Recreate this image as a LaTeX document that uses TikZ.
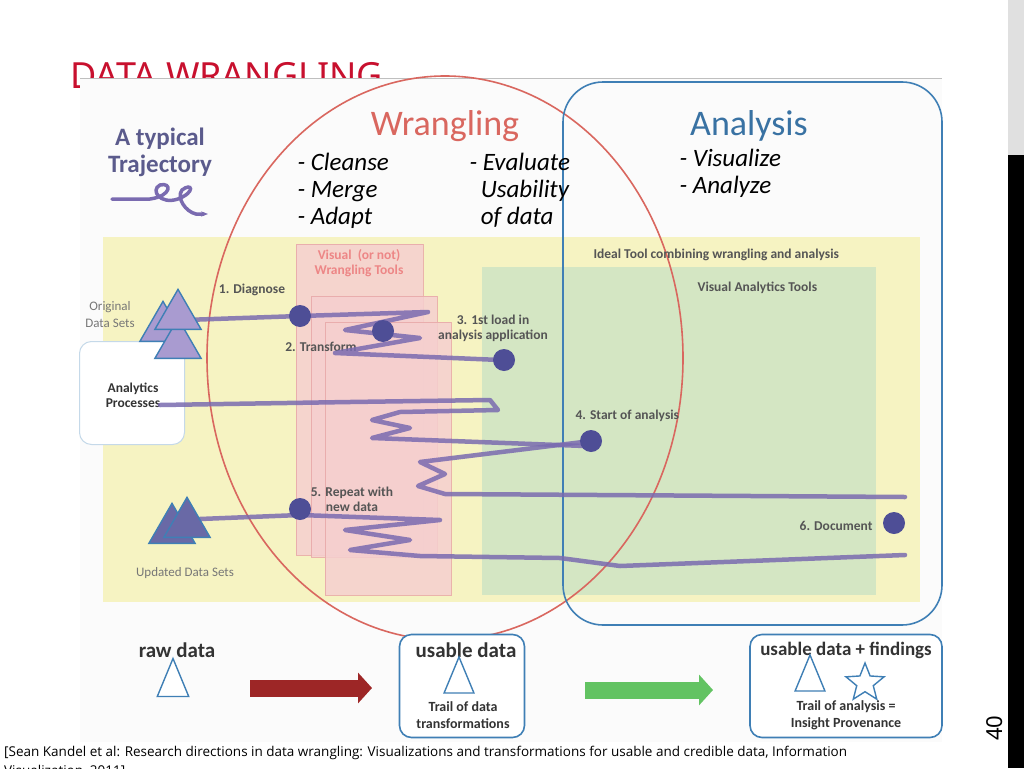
\documentclass[tikz,border=0pt]{standalone}
\usepackage{fontspec}
\setmainfont{Carlito}
\newfontfamily\opens{Open Sans}
\newfontfamily\notos{Noto Sans}
\usetikzlibrary{shapes.geometric,arrows.meta}
\definecolor{ttl}{HTML}{C8102E}
\definecolor{ylw}{HTML}{F6F3C2}
\definecolor{grn}{HTML}{D4E6C3}
\definecolor{pnk}{HTML}{F5CFCF}
\definecolor{pnkb}{HTML}{E8A8A8}
\definecolor{redl}{HTML}{D9675F}
\definecolor{blu}{HTML}{3F7FB5}
\definecolor{pur}{HTML}{7A6BB0}
\definecolor{purf}{HTML}{A99BD0}
\definecolor{dot}{HTML}{4E4E96}
\definecolor{purt}{HTML}{5B5B8C}
\definecolor{grt}{HTML}{555555}
\tikzset{
 traj/.style={pur,line width=4.5pt,line join=round,line cap=round,opacity=.85},
 dotn/.style={circle,fill=dot,minimum size=22pt,inner sep=0pt},
 lbl/.style={font=\bfseries\fontsize{13.5}{15}\selectfont,text=grt,align=center},
 tri/.style={isosceles triangle,shape border rotate=90,isosceles triangle apex angle=60,draw=blu,line width=1.4pt,fill=purf,minimum height=40pt,inner sep=0pt},
 otri/.style={isosceles triangle,shape border rotate=90,isosceles triangle apex angle=45,draw=blu,line width=1.4pt,fill=white,minimum height=38pt,inner sep=0pt},
 pbox/.style={fill=pnk,draw=pnkb,line width=.6pt,opacity=.85},
 bbox/.style={draw=blu,line width=1.6pt,rounded corners=12pt,fill=white},
 big/.style={font=\bfseries\fontsize{21}{24}\selectfont,text=black!80}
}
\begin{document}
\begin{tikzpicture}[x=1pt,y=-1pt]
\useasboundingbox (0,0) rectangle (1024,768);
\fill[white] (0,0) rectangle (1024,768);
\fill[black!12] (1008,0) rectangle (1024,155);
\fill[black] (1008,155) rectangle (1024,768);
\node[rotate=90,font=\notos\fontsize{22}{24}\selectfont] (pg) at (995,728) {40};
\node[anchor=base west,text=ttl,font=\notos\fontsize{36}{38}\selectfont,inner sep=0] (title) at (70,88) {DATA WRANGLING};
\fill[white!97!gray] (80,78) rectangle (942,742);
\draw[black!25,line width=.8pt] (80,78) -- (942,78);
\fill[ylw] (103,237) rectangle (920,602);
\fill[grn] (482,267) rectangle (876,595);
\fill[pbox] (296,244) rectangle (423,555);
\fill[pbox] (311,296) rectangle (437,557);
\fill[pbox] (325,322) rectangle (451,595);
\draw[redl,line width=1.6pt] (445,358) ellipse (238pt and 282pt);
\draw[blu,line width=1.6pt,rounded corners=40pt] (563,82) rectangle (942,625);
\node[draw=blu!30,line width=1pt,rounded corners=12pt,fill=white,minimum width=105pt,minimum height=103pt] (ap) at (132,393) {};
\node[lbl,text=black!80] (apt) at (133,395) {Analytics\\Processes};
\node[font=\fontsize{36}{38}\selectfont,text=redl] (wr) at (445,126) {Wrangling};
\node[font=\fontsize{36}{38}\selectfont,text=blu!90!black] (an) at (749,126) {Analysis};
\node[font=\bfseries\fontsize{25}{27}\selectfont,text=purt,align=center] (typ) at (160,152) {A typical\\Trajectory};
\node[font=\itshape\fontsize{25}{27}\selectfont,align=left,anchor=north west] (cl) at (294,150) {- Cleanse\\- Merge\\- Adapt};
\node[font=\itshape\fontsize{25}{27}\selectfont,align=left,anchor=north west] (ev) at (466,150) {- Evaluate\\\ \ Usability\\\ \ of data};
\node[font=\itshape\fontsize{25}{27}\selectfont,align=left,anchor=north west] (vi) at (676,146) {- Visualize\\- Analyze};
\draw[pur,line width=3.5pt,line cap=round,-{Stealth[length=7pt]}] (112,199) -- (150,199) .. controls (172,196) and (172,182) .. (160,185) .. controls (150,190) and (160,205) .. (178,199) .. controls (196,192) and (192,182) .. (182,190) .. controls (176,198) and (186,212) .. (196,214) -- (208,214);
\node[lbl,text=pnkb!80!red,anchor=north] (vwt) at (359,246) {Visual \ (or not)\\Wrangling Tools};
\node[lbl,anchor=west] (ide) at (590,255) {Ideal Tool combining wrangling and analysis};
\node[lbl,anchor=west] (vat) at (694,288) {Visual Analytics Tools};
\node[lbl] (dg) at (252,290) {1. Diagnose};
\node[lbl] (tf) at (321,347) {2. Transform};
\node[lbl] (fl) at (493,328) {3. 1st load in\\analysis application};
\node[lbl,anchor=west] (sa) at (572,416) {4. Start of analysis};
\node[lbl] (rp) at (352,499) {5. Repeat with\\new data};
\node[lbl,anchor=east] (doc) at (876,526) {6. Document};
\node[lbl,font=\fontsize{13}{17}\selectfont,text=grt!80] (ods) at (110,315) {Original\\Data Sets};
\node[lbl,font=\fontsize{13}{15}\selectfont,text=grt!80] (uds) at (185,573) {Updated Data Sets};
\draw[traj] (185,320) -- (300,316) -- (428,312) -- (345,330) -- (420,338) -- (335,353) -- (500,360);
\draw[traj] (160,405) -- (350,402) -- (490,400) -- (498,410) -- (400,412) -- (372,420) -- (410,428) -- (372,438) -- (585,446);
\draw[traj] (591,441) -- (420,462) -- (445,474) -- (418,486) -- (445,494) -- (905,497);
\draw[traj] (175,520) -- (300,515) -- (440,520) -- (345,530) -- (410,540) -- (350,550) -- (420,556) -- (560,558) -- (620,566) -- (905,555);
\node[dotn] (d1) at (300,316) {};
\node[dotn] (d2) at (383,331) {};
\node[dotn] (d3) at (504,360) {};
\node[dotn] (d4) at (591,441) {};
\node[dotn] (d5) at (300,509) {};
\node[dotn] (d6) at (894,523) {};
\node[tri] (t1) at (163,328) {};
\node[tri] (t2) at (178,345) {};
\node[tri] (t3) at (178,316) {};
\node[tri,fill=dot!85] (u1) at (172,530) {};
\node[tri,fill=dot!85] (u2) at (187,524) {};
\node[big] (raw) at (177,650) {raw data};
\node[otri] (rt) at (173,686) {};
\draw[line width=17pt,-{Triangle[length=14pt,width=30pt]},draw=red!55!black!85,fill=red!55!black!85] (250,688) -- (372,688);
\node[bbox,minimum width=125pt,minimum height=103pt] (ub) at (462,686) {};
\node[big] (udt) at (466,650) {usable data};
\node[otri,minimum height=36pt] (ut) at (459,683) {};
\node[font=\bfseries\fontsize{14}{17}\selectfont,align=center,text=black!80] (trl) at (463,715) {Trail of data\\transformations};
\draw[line width=17pt,-{Triangle[length=14pt,width=30pt]},draw=green!45!gray!85,fill=green!45!gray!85] (585,690) -- (713,690);
\node[bbox,minimum width=192pt,minimum height=103pt] (fb) at (846,686) {};
\node[big,font=\bfseries\fontsize{19}{22}\selectfont] (fdt) at (846,650) {usable data + findings};
\node[otri,minimum height=36pt] (ft) at (810,681) {};
\node[star,star points=5,star point ratio=2.3,draw=blu,line width=1.4pt,minimum size=40pt,inner sep=0pt] (st) at (865,683) {};
\node[font=\bfseries\fontsize{14}{17}\selectfont,align=center,text=black!80] (tra) at (846,715) {Trail of analysis =\\Insight Provenance};
\node[anchor=west,font=\opens\fontsize{13.5}{16}\selectfont,inner sep=0] (cit) at (4,753) {[Sean Kandel et al: Research directions in data wrangling: Visualizations and transformations for usable and credible data, Information};
\node[anchor=west,font=\opens\fontsize{13.5}{16}\selectfont,inner sep=0] (cit2) at (4,771) {Visualization, 2011]};
\end{tikzpicture}
\end{document}
